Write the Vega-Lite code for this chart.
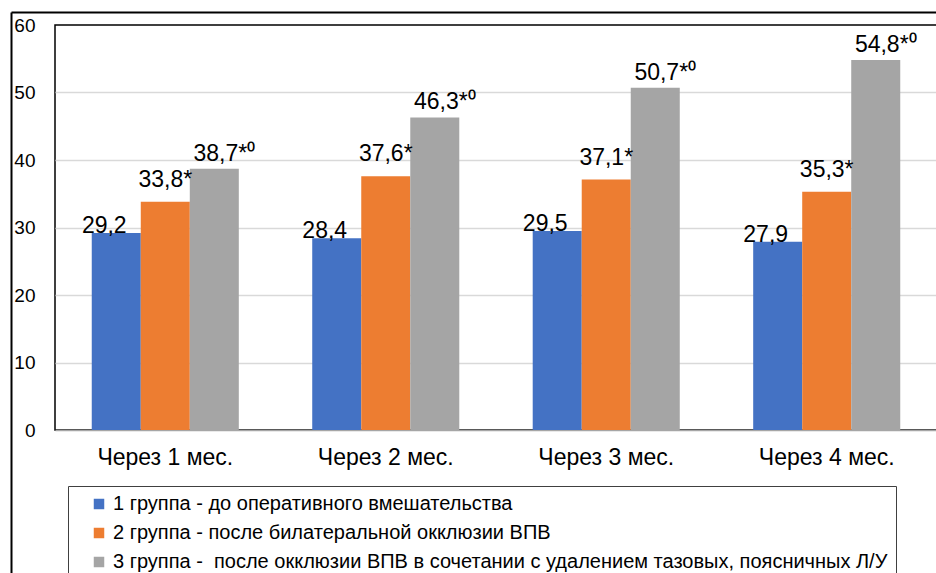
{
  "$schema": "https://vega.github.io/schema/vega-lite/v6.json",
  "width": 882,
  "height": 405,
  "autosize": {"type": "none"},
  "padding": {"left": 55, "top": 25, "right": 0, "bottom": 148},
  "background": "white",
  "config": {
    "font": "Liberation Sans",
    "view": {"stroke": "black", "strokeWidth": 1.5}
  },
  "datasets": {
    "main": [
      {"period": "Через 1 мес.", "group": "1 группа - до оперативного вмешательства", "value": 29.2, "label": "29,2"},
      {"period": "Через 1 мес.", "group": "2 группа - после билатеральной окклюзии ВПВ", "value": 33.8, "label": "33,8*"},
      {"period": "Через 1 мес.", "group": "3 группа - \u00a0после окклюзии ВПВ в сочетании с удалением тазовых, поясничных Л/У", "value": 38.7, "label": "38,7*⁰"},
      {"period": "Через 2 мес.", "group": "1 группа - до оперативного вмешательства", "value": 28.4, "label": "28,4"},
      {"period": "Через 2 мес.", "group": "2 группа - после билатеральной окклюзии ВПВ", "value": 37.6, "label": "37,6*"},
      {"period": "Через 2 мес.", "group": "3 группа - \u00a0после окклюзии ВПВ в сочетании с удалением тазовых, поясничных Л/У", "value": 46.3, "label": "46,3*⁰"},
      {"period": "Через 3 мес.", "group": "1 группа - до оперативного вмешательства", "value": 29.5, "label": "29,5"},
      {"period": "Через 3 мес.", "group": "2 группа - после билатеральной окклюзии ВПВ", "value": 37.1, "label": "37,1*"},
      {"period": "Через 3 мес.", "group": "3 группа - \u00a0после окклюзии ВПВ в сочетании с удалением тазовых, поясничных Л/У", "value": 50.7, "label": "50,7*⁰"},
      {"period": "Через 4 мес.", "group": "1 группа - до оперативного вмешательства", "value": 27.9, "label": "27,9"},
      {"period": "Через 4 мес.", "group": "2 группа - после билатеральной окклюзии ВПВ", "value": 35.3, "label": "35,3*"},
      {"period": "Через 4 мес.", "group": "3 группа - \u00a0после окклюзии ВПВ в сочетании с удалением тазовых, поясничных Л/У", "value": 54.8, "label": "54,8*⁰"}
    ],
    "frame": [{"fx": 0, "fy": 0}]
  },
  "layer": [
    {
      "data": {"name": "main"},
      "encoding": {
        "x": {
          "field": "period", "type": "nominal", "sort": null,
          "scale": {"paddingInner": 0.333, "paddingOuter": 0.1667},
          "axis": {
            "title": null, "labelAngle": 0, "ticks": false,
            "domainColor": "#a6a6a6", "domainWidth": 1.5,
            "labelFontSize": 23, "labelColor": "black", "labelPadding": 16
          }
        },
        "xOffset": {"field": "group", "type": "nominal", "sort": null},
        "y": {
          "field": "value", "type": "quantitative",
          "scale": {"domain": [0, 60], "nice": false},
          "axis": {
            "title": null, "values": [0, 10, 20, 30, 40, 50, 60],
            "domain": false, "ticks": false, "labelPadding": 20,
            "labelFontSize": 19, "labelColor": "black",
            "gridColor": {"condition": {"test": "datum.value === 60 || datum.value === 0", "value": "transparent"}, "value": "#d9d9d9"},
            "gridWidth": 1.3
          }
        }
      },
      "layer": [
        {
          "mark": {"type": "bar"},
          "encoding": {
            "color": {
              "field": "group", "type": "nominal", "sort": null,
              "scale": {"range": ["#4472C4", "#ED7D31", "#A5A5A5"]},
              "legend": {
                "orient": "none", "legendX": 13, "legendY": 461,
                "direction": "vertical", "title": null,
                "labelFontSize": 20, "labelColor": "black", "labelLimit": 1200,
                "labelExpr": "datum.label + '\u00a0\u00a0\u00a0\u00a0\u00a0'",
                "symbolType": "square", "symbolSize": 110, "symbolStrokeWidth": 0,
                "strokeColor": "#404040", "padding": 8, "symbolOffset": 13,
                "rowPadding": 9, "labelOffset": 4
              }
            }
          }
        },
        {
          "transform": [{"filter": "indexof(datum.group, '1 группа') === 0"}],
          "mark": {"type": "text", "fontSize": 23, "color": "black", "align": "center", "baseline": "alphabetic", "dx": -12, "dy": 0},
          "encoding": {"text": {"field": "label"}}
        },
        {
          "transform": [{"filter": "indexof(datum.group, '2 группа') === 0"}],
          "mark": {"type": "text", "fontSize": 23, "color": "black", "align": "center", "baseline": "alphabetic", "dx": 0, "dy": -15},
          "encoding": {"text": {"field": "label"}}
        },
        {
          "transform": [{"filter": "indexof(datum.group, '3 группа') === 0"}],
          "mark": {"type": "text", "fontSize": 23, "color": "black", "align": "center", "baseline": "alphabetic", "dx": 10, "dy": -8},
          "encoding": {"text": {"field": "label"}}
        }
      ]
    },
    {
      "data": {"name": "frame"},
      "mark": {"type": "point", "opacity": 0},
      "encoding": {
        "x": {
          "field": "fx", "type": "quantitative",
          "scale": {"domain": [0, 1], "range": [-44, 900], "nice": false, "zero": false},
          "axis": {"orient": "top", "offset": 13, "domainColor": "black", "domainWidth": 2, "labels": false, "ticks": false, "grid": false, "title": null}
        },
        "y": {
          "field": "fy", "type": "quantitative",
          "scale": {"domain": [0, 1], "range": [570, -13], "nice": false, "zero": false},
          "axis": {"orient": "left", "offset": 44, "domainColor": "black", "domainWidth": 2, "labels": false, "ticks": false, "grid": false, "title": null}
        }
      }
    }
  ],
  "resolve": {
    "scale": {"x": "independent", "y": "independent"},
    "axis": {"x": "independent", "y": "independent"}
  }
}
